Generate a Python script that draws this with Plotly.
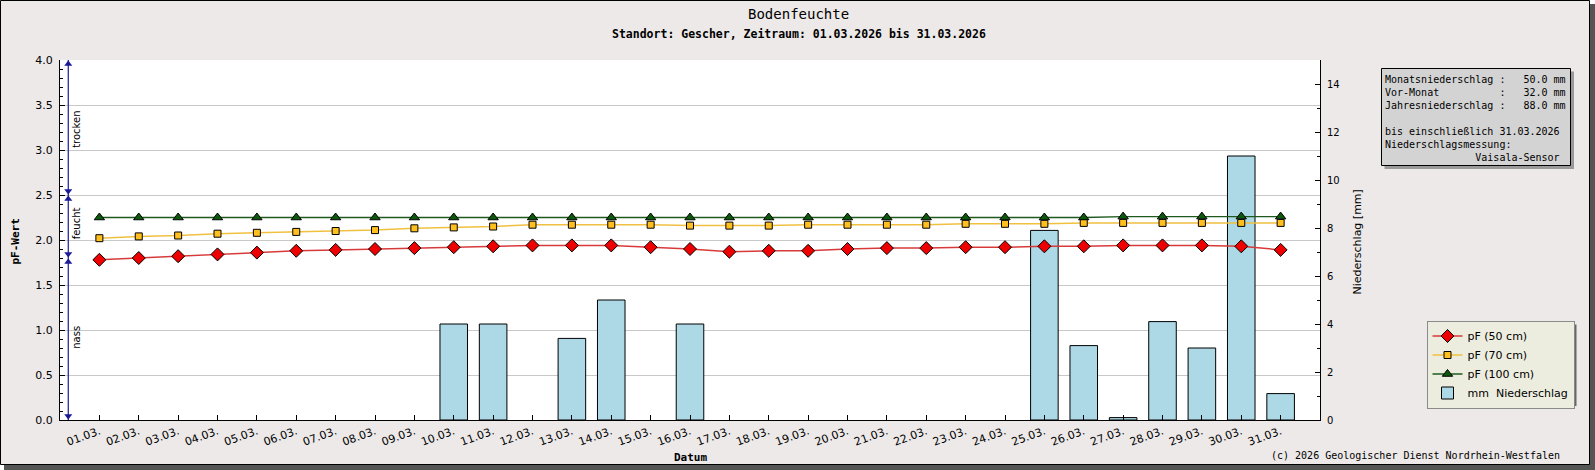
import plotly.graph_objects as go

# Days of March 2026 and their tick labels.
days = list(range(1, 32))
day_labels = [f"{d:02d}.03." for d in days]

# pF values per depth.
pf_50 = [1.78, 1.80, 1.82, 1.84, 1.86, 1.88, 1.89, 1.90, 1.91, 1.92,
         1.93, 1.94, 1.94, 1.94, 1.92, 1.90, 1.87, 1.88, 1.88, 1.90,
         1.91, 1.91, 1.92, 1.92, 1.93, 1.93, 1.94, 1.94, 1.94, 1.93, 1.89]
pf_70 = [2.02, 2.04, 2.05, 2.07, 2.08, 2.09, 2.10, 2.11, 2.13, 2.14,
         2.15, 2.17, 2.17, 2.17, 2.17, 2.16, 2.16, 2.16, 2.17, 2.17,
         2.17, 2.17, 2.18, 2.18, 2.18, 2.19, 2.19, 2.19, 2.19, 2.19, 2.19]
pf_100 = [2.25] * 26 + [2.26] * 5

# Daily precipitation in mm (days without rain left out).
rain_days = [10, 11, 13, 14, 16, 25, 26, 27, 28, 29, 30, 31]
rain_mm = [4.0, 4.0, 3.4, 5.0, 4.0, 7.9, 3.1, 0.1, 4.1, 3.0, 11.0, 1.1]

# Moisture zones on the pF scale.
zone_names = ["nass", "feucht", "trocken"]
zone_bounds = [0.0, 1.8, 2.5, 4.0]

info_lines = [
    "Monatsniederschlag :   50.0 mm",
    "Vor-Monat          :   32.0 mm",
    "Jahresniederschlag :   88.0 mm",
    "",
    "bis einschließlich 31.03.2026",
    "Niederschlagsmessung:",
    "               Vaisala-Sensor",
]

W, H = 1595, 470
L, R, T, B = 60, 275, 60, 50
PW, PH = W - L - R, H - T - B


def px(x):
    return (x - L) / PW


def py(y):
    return (H - B - y) / PH


SANS = "DejaVu Sans"
MONO = "DejaVu Sans Mono"

fig = go.Figure()

fig.add_scatter(
    x=days, y=pf_50, yaxis="y2", mode="lines+markers", name="pF (50 cm)",
    line=dict(color="#d83a3a", width=1.5),
    marker=dict(symbol="diamond", size=10, color="#ee0000",
                line=dict(color="black", width=1)),
)
fig.add_scatter(
    x=days, y=pf_70, yaxis="y2", mode="lines+markers", name="pF (70 cm)",
    line=dict(color="#f0c040", width=1.5),
    marker=dict(symbol="square", size=7, color="#ffbf1f",
                line=dict(color="black", width=1)),
)
fig.add_scatter(
    x=days, y=pf_100, yaxis="y2", mode="lines+markers", name="pF (100 cm)",
    line=dict(color="#1e5a1e", width=1.3),
    marker=dict(symbol="triangle-up", size=9, color="#0b5a0b",
                line=dict(color="black", width=1)),
)
fig.add_bar(
    x=rain_days, y=rain_mm, yaxis="y", name="mm\u00a0\u00a0Niederschlag",
    width=0.7,
    marker=dict(color="#add8e6", line=dict(color="black", width=1)),
)

# Zone marker on the left: vertical line with arrow heads at the bounds.
zx = 0.21
fig.add_scatter(
    x=[zx, zx], y=[zone_bounds[0], zone_bounds[-1]], yaxis="y2",
    mode="lines", line=dict(color="#1a1a99", width=1.2),
    showlegend=False, hoverinfo="skip",
)
arrow_y, arrow_sym = [], []
for lo, hi in zip(zone_bounds[:-1], zone_bounds[1:]):
    arrow_y += [lo + 0.045, hi - 0.045]
    arrow_sym += ["triangle-down", "triangle-up"]
fig.add_scatter(
    x=[zx] * len(arrow_y), y=arrow_y, yaxis="y2", mode="markers",
    marker=dict(symbol=arrow_sym, size=7, color="#1a1a99",
                line=dict(width=0)),
    showlegend=False, hoverinfo="skip",
)
zone_text_y = [0.92, 2.18, 3.23]
for name, ty in zip(zone_names, zone_text_y):
    fig.add_annotation(
        x=0.42, y=ty, xref="x", yref="y2", text=name, showarrow=False,
        textangle=-90, xanchor="center", yanchor="middle",
        font=dict(family=SANS, size=10, color="black"),
    )

# legend box as plotly draws it (measured), used for the drop shadow
leg_x, leg_y, leg_w, leg_h = 1426.5, 320.5, 146, 81.5

shapes = [
    # frame with shadow, plot background
    dict(type="rect", xref="paper", yref="paper", layer="below",
         x0=px(4), x1=px(W), y0=py(H), y1=py(4),
         fillcolor="#555555", line=dict(width=0)),
    dict(type="rect", xref="paper", yref="paper", layer="below",
         x0=px(0.5), x1=px(1589.5), y0=py(464.5), y1=py(0.5),
         fillcolor="#ece9e8", line=dict(color="black", width=1)),
    dict(type="rect", xref="paper", yref="paper", layer="below",
         x0=0, x1=1, y0=0, y1=1, fillcolor="white", line=dict(width=0)),
    # info box shadow + box
    dict(type="rect", xref="paper", yref="paper", layer="above",
         x0=px(1384.5), x1=px(1574), y0=py(169), y1=py(71.5),
         fillcolor="#9a9a9a", line=dict(width=0)),
    dict(type="rect", xref="paper", yref="paper", layer="above",
         x0=px(1381.5), x1=px(1570.5), y0=py(165.5), y1=py(68.5),
         fillcolor="#d3d3d3", line=dict(color="black", width=1)),
    # legend shadow
    dict(type="rect", xref="paper", yref="paper", layer="above",
         x0=px(leg_x + 4), x1=px(leg_x + leg_w + 4),
         y0=py(leg_y + leg_h + 4), y1=py(leg_y + 4),
         fillcolor="#666666", line=dict(width=0)),
]

nb = "\u00a0"
info_text = "<br>".join(s.replace(" ", nb) if s else nb for s in info_lines)
fig.add_annotation(
    x=px(1384), y=py(72.5), xref="paper", yref="paper", xanchor="left",
    yanchor="top", align="left", showarrow=False, text=info_text,
    font=dict(family=MONO, size=10, color="black"), borderpad=0,
)


def caption(x, y, text, font, angle=0, xanchor="center"):
    fig.add_annotation(
        x=px(x), y=py(y), xref="paper", yref="paper", showarrow=False,
        text=text, textangle=angle, xanchor=xanchor, yanchor="middle",
        font=font,
    )


caption(798, 14, "Bodenfeuchte", dict(family=MONO, size=14, color="black"))
caption(798.5, 34,
        "<b>Standort: Gescher, Zeitraum: 01.03.2026 bis 31.03.2026</b>",
        dict(family=MONO, size=11.5, color="black"))
caption(690, 457.5, "<b>Datum</b>", dict(family=MONO, size=11, color="black"))
caption(15, 241.5, "<b>pF-Wert</b>", dict(family=MONO, size=11, color="black"),
        angle=-90)
caption(1356.5, 242, "Niederschlag [mm]",
        dict(family=SANS, size=11, color="black"), angle=-90)
caption(1562, 455, "(c) 2026 Geologischer Dienst Nordrhein-Westfalen",
        dict(family=MONO, size=10, color="black"), xanchor="right")

fig.update_layout(
    width=W, height=H, autosize=False,
    margin=dict(l=L, r=R, t=T, b=B, pad=0),
    paper_bgcolor="white", plot_bgcolor="white",
    shapes=shapes,
    font=dict(family=SANS, size=11, color="black"),
    showlegend=True,
    legend=dict(
        x=px(leg_x), y=py(leg_y), xanchor="left", yanchor="top",
        bgcolor="#ededdf", bordercolor="#8a8a8a", borderwidth=1,
        font=dict(family=SANS, size=11, color="black"),
        itemwidth=30, tracegroupgap=0,
    ),
    xaxis=dict(
        range=[0, 32], tickvals=days, ticktext=day_labels, tickangle=-20,
        ticks="inside", ticklen=5, tickcolor="black",
        showline=True, linecolor="black", linewidth=1,
        showgrid=False, zeroline=False, automargin=False,
        tickfont=dict(family=SANS, size=11, color="black"),
    ),
    yaxis=dict(
        side="right", range=[0, 15], tick0=0, dtick=2,
        ticks="inside", ticklen=5, tickcolor="black", ticklabelstandoff=4,
        minor=dict(dtick=1, ticks="inside", ticklen=3, tickcolor="black",
                   showgrid=False),
        showline=True, linecolor="black", linewidth=1,
        showgrid=False, zeroline=False, automargin=False,
        tickfont=dict(family=SANS, size=10, color="black"),
    ),
    yaxis2=dict(
        side="left", overlaying="y", anchor="x", range=[0, 4],
        tick0=0, dtick=0.5, tickformat=".1f",
        ticks="inside", ticklen=5, tickcolor="black", ticklabelstandoff=4,
        minor=dict(dtick=0.1, ticks="inside", ticklen=3, tickcolor="black",
                   showgrid=False),
        showline=True, linecolor="black", linewidth=1,
        showgrid=True, gridcolor="#c8c8c8", gridwidth=1, zeroline=False,
        automargin=False,
        tickfont=dict(family=SANS, size=11, color="black"),
    ),
)

# the page is photographed at exactly the figure size: drop the body margin
fig.write_html(
    "out.html",
    config={"displayModeBar": False},
    post_script="document.body.style.margin = '0';",
)
